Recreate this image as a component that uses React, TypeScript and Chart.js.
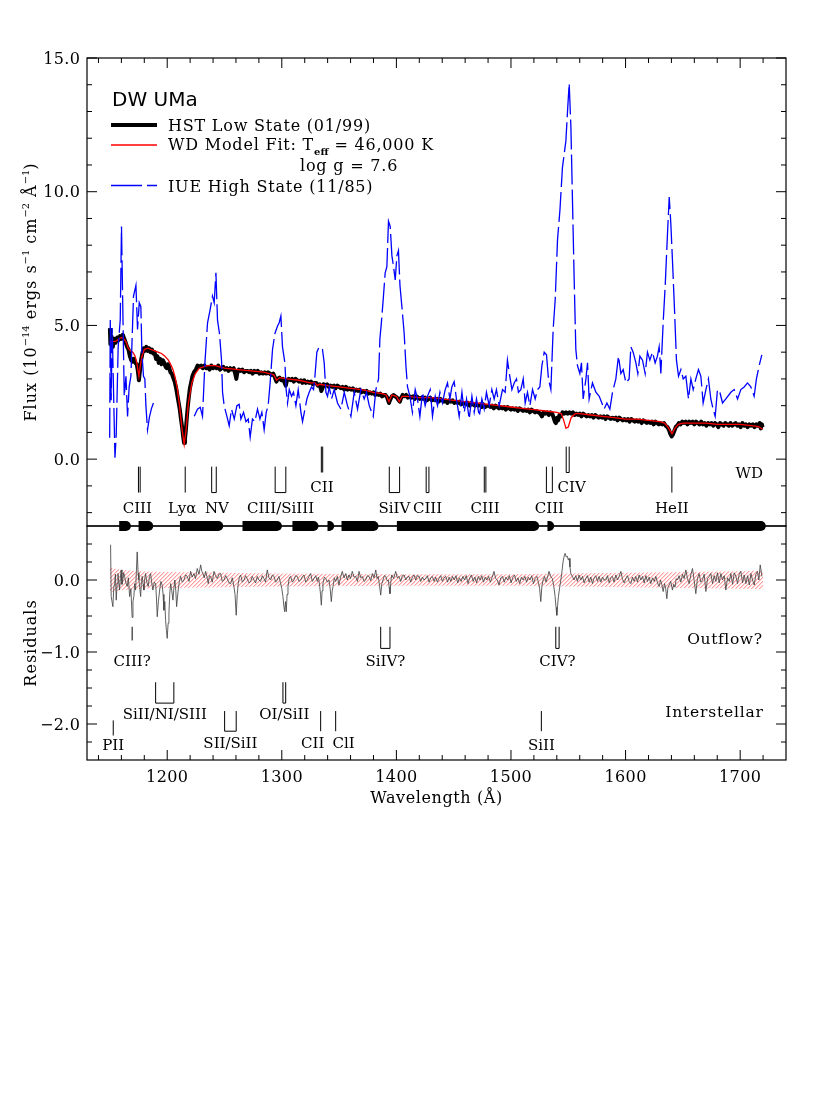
import React, { useEffect, useRef } from 'react';
import { Chart, registerables } from 'chart.js';

Chart.register(...registerables);

// ---------------- data ----------------
const X_MIN = 1130;
const X_MAX = 1740;
const FLUX_MIN = -2.5;
const FLUX_MAX = 15;
const RES_MIN = -2.5;
const RES_MAX = 0.75;

const X_MAJOR = [1200, 1300, 1400, 1500, 1600, 1700];
const X_MAJOR_LABELS = ['1200', '1300', '1400', '1500', '1600', '1700'];
const X_MINOR = [1140, 1160, 1180, 1220, 1240, 1260, 1280, 1320, 1340, 1360, 1380, 1420, 1440, 1460, 1480, 1520, 1540, 1560, 1580, 1620, 1640, 1660, 1680, 1720];
const FLUX_MAJOR = [0, 5, 10, 15];
const FLUX_LABELS = ['0.0', '5.0', '10.0', '15.0'];
const FLUX_MINOR = [-2, -1, 1, 2, 3, 4, 6, 7, 8, 9, 11, 12, 13, 14];
const RES_MAJOR = [0, -1, -2];
const RES_LABELS = ['0.0', '\u22121.0', '\u22122.0'];
const RES_MINOR = [0.5, 0.25, -0.25, -0.5, -0.75, -1.25, -1.5, -1.75, -2.25];

// IUE high state (11/85) flux, 1e-14 units; null = gap (geocoronal Ly alpha removed)
const IUE: Array<[number, number | null]> = [
  [1149.8, 0.8], [1150.3, 5.2], [1151.1, 2.2], [1152.0, 4.9], [1154.4, 0.05], [1155.5, 0.9], [1157.2, 4.2], [1159.0, 5.2],
  [1160.1, 8.7], [1161.3, 5.5], [1162.5, 2.35], [1164.0, 3.1], [1165.4, 1.6], [1166.8, 2.7], [1168.3, 3.1], [1170.6, 6.1],
  [1172.7, 6.5], [1174.1, 4.85], [1175.6, 5.85], [1177.0, 5.7], [1177.9, 4.0], [1179.3, 3.1], [1180.5, 3.0], [1181.4, 2.0],
  [1182.8, 1.1], [1184.6, 1.6], [1186.3, 1.9], [1188.0, 2.1], [1205.0, null],
  [1223.6, 1.6], [1226.4, 1.87], [1228.8, 1.94], [1230.8, 1.6], [1232.9, 3.6], [1235.2, 5.1], [1237.5, 5.6], [1239.5, 6.1],
  [1241.0, 5.85], [1242.5, 6.97], [1243.9, 5.2], [1245.6, 4.7], [1247.4, 3.7], [1248.3, 2.5], [1249.7, 2.0], [1252.1, 1.6],
  [1254.1, 1.25], [1256.1, 1.87], [1258.5, 1.5], [1260.8, 2.0], [1262.8, 2.05], [1264.3, 1.5], [1266.6, 1.75], [1268.7, 1.4],
  [1270.7, 1.5], [1272.4, 0.82], [1274.4, 1.5], [1276.5, 1.4], [1278.8, 1.87], [1280.9, 1.5], [1282.6, 1.75], [1284.6, 1.1],
  [1286.4, 1.75], [1288.1, 2.0], [1289.9, 2.9], [1291.9, 4.1], [1294.0, 4.7], [1296.2, 4.97], [1297.7, 5.1], [1299.2, 5.35],
  [1300.6, 4.2], [1302.7, 3.6], [1303.8, 2.6], [1305.0, 2.1], [1306.5, 2.6], [1308.5, 2.35], [1310.2, 2.5], [1312.3, 2.0],
  [1314.3, 2.6], [1316.7, 1.75], [1318.1, 1.4], [1320.2, 1.87], [1321.9, 2.25], [1323.9, 2.5], [1325.9, 2.7], [1327.7, 2.6],
  [1328.9, 3.1], [1330.6, 4.0], [1332.6, 4.2], [1335.5, 4.1], [1337.0, 3.6], [1338.5, 2.5], [1339.9, 2.35], [1341.4, 2.7],
  [1343.4, 2.25], [1345.7, 2.6], [1348.6, 2.1], [1351.6, 1.87], [1354.5, 2.5], [1357.3, 2.0], [1360.3, 1.6], [1363.2, 2.5],
  [1366.1, 1.87], [1369.0, 2.6], [1371.9, 2.25], [1373.9, 2.5], [1376.3, 2.0], [1379.8, 1.6], [1382.1, 2.6], [1384.4, 3.0],
  [1385.6, 4.5], [1386.7, 5.0], [1388.5, 5.97], [1390.2, 6.97], [1391.7, 7.2], [1393.1, 8.9], [1394.6, 8.7], [1396.1, 7.6],
  [1397.5, 7.2], [1399.0, 6.7], [1400.4, 7.6], [1401.8, 7.8], [1403.1, 6.5], [1404.8, 5.7], [1406.8, 4.7], [1408.3, 3.5],
  [1409.7, 2.7], [1411.8, 2.35], [1414.0, 1.75], [1416.4, 2.6], [1418.4, 2.25], [1420.5, 1.6], [1422.8, 2.5], [1425.1, 2.0],
  [1427.1, 2.35], [1429.5, 2.6], [1431.5, 1.6], [1433.9, 2.35], [1435.9, 2.0], [1438.0, 2.5], [1440.2, 2.1], [1442.6, 2.6],
  [1444.6, 2.85], [1446.7, 2.25], [1448.4, 2.7], [1450.4, 2.9], [1452.4, 2.25], [1454.8, 1.6], [1457.2, 2.5], [1459.2, 1.75],
  [1461.2, 2.25], [1463.5, 1.5], [1465.9, 2.35], [1467.9, 1.75], [1469.9, 2.25], [1472.3, 1.6], [1474.6, 2.25], [1476.6, 1.87],
  [1478.6, 2.5], [1481.0, 2.0], [1483.3, 2.6], [1485.3, 2.25], [1487.3, 2.6], [1489.7, 2.0], [1492.6, 2.6], [1494.9, 2.5],
  [1496.9, 3.7], [1498.4, 3.25], [1500.8, 2.6], [1502.8, 2.85], [1504.8, 3.0], [1506.5, 2.5], [1508.6, 2.6], [1510.7, 3.0],
  [1512.4, 2.1], [1514.4, 2.5], [1516.5, 2.0], [1518.8, 2.6], [1521.1, 2.25], [1523.1, 2.6], [1525.2, 2.7], [1527.0, 3.5],
  [1529.0, 4.0], [1531.0, 3.9], [1532.7, 3.0], [1534.8, 2.6], [1536.8, 4.85], [1538.6, 5.97], [1540.6, 8.2], [1542.7, 9.3],
  [1544.9, 10.9], [1547.9, 11.9], [1549.6, 13.2], [1550.8, 14.05], [1552.3, 12.4], [1553.7, 9.6], [1555.1, 6.8], [1556.6, 4.1],
  [1558.0, 3.5], [1560.1, 3.2], [1561.5, 3.6], [1563.0, 2.25], [1565.4, 3.0], [1566.8, 3.6], [1568.2, 2.25], [1571.1, 2.85],
  [1574.1, 2.5], [1577.0, 2.35], [1579.3, 2.1], [1581.3, 1.87], [1583.7, 2.1], [1586.3, 1.87], [1588.6, 2.5], [1591.5, 3.0],
  [1593.8, 3.85], [1595.9, 3.2], [1597.9, 3.35], [1600.3, 2.85], [1603.1, 3.0], [1604.6, 4.2], [1606.6, 4.0], [1609.0, 3.6],
  [1610.7, 3.2], [1612.5, 3.85], [1614.8, 3.7], [1617.1, 3.2], [1619.1, 4.0], [1621.2, 3.7], [1623.5, 4.0], [1625.8, 3.6],
  [1627.8, 3.85], [1629.3, 4.2], [1630.8, 3.2], [1632.8, 5.1], [1634.6, 6.5], [1636.6, 8.45], [1638.1, 9.8], [1639.5, 8.8],
  [1640.9, 7.45], [1642.7, 5.6], [1644.4, 3.7], [1646.2, 3.1], [1648.3, 3.35], [1650.3, 3.0], [1652.6, 3.1], [1654.9, 2.25],
  [1657.0, 3.0], [1659.0, 2.6], [1661.3, 3.0], [1663.6, 3.35], [1665.7, 3.1], [1667.7, 2.1], [1670.1, 2.6], [1672.3, 3.0],
  [1674.4, 2.25], [1676.4, 1.87], [1678.2, 1.6], [1680.2, 2.6], [1682.3, 2.5], [1684.6, 2.1], [1687.5, 2.25], [1691.9, 2.5],
  [1694.8, 2.6], [1697.7, 2.25], [1700.6, 2.6], [1703.5, 2.7], [1706.4, 2.85], [1709.3, 2.7], [1712.2, 2.35], [1714.2, 3.0],
  [1716.6, 3.5], [1718.9, 3.9],
];

// HST low state (01/99)
const HST: Array<[number, number]> = [
  [1150.0, 4.9], [1150.4, 4.3], [1151.3, 4.6], [1152.5, 4.2], [1153.7, 4.5], [1155.0, 4.35], [1156.3, 4.55], [1157.5, 4.45],
  [1158.8, 4.6], [1160.0, 4.5], [1161.3, 4.65], [1162.5, 4.5], [1163.8, 4.35], [1165.0, 4.2], [1166.2, 4.1], [1167.4, 3.85],
  [1168.6, 3.7], [1169.8, 3.65], [1171.0, 3.75], [1172.2, 3.6], [1173.4, 3.55], [1174.4, 3.3], [1175.3, 2.95], [1176.2, 3.3],
  [1177.2, 3.7], [1178.3, 3.95], [1179.4, 4.15], [1180.6, 4.05], [1181.8, 4.2], [1183.0, 4.05], [1184.2, 4.15], [1185.4, 4.0],
  [1186.6, 4.1], [1187.8, 3.95], [1189.0, 4.0], [1190.2, 3.75], [1191.4, 3.85], [1192.6, 3.6], [1193.8, 3.75], [1195.0, 3.55],
  [1196.2, 3.7], [1197.4, 3.6], [1198.6, 3.45], [1199.6, 3.4], [1200.6, 3.55], [1201.6, 3.45], [1202.8, 3.25], [1204.0, 3.2],
  [1205.2, 3.05], [1206.5, 2.9], [1207.6, 2.7], [1208.6, 2.45], [1209.8, 2.15], [1211.0, 1.85], [1212.0, 1.5], [1213.0, 1.2],
  [1213.9, 0.85], [1214.7, 0.6], [1215.5, 0.75], [1216.2, 1.05], [1217.0, 1.5], [1217.8, 1.9], [1218.8, 2.3], [1219.8, 2.65],
  [1220.8, 2.85], [1222.0, 3.1], [1223.4, 3.25], [1225.0, 3.35], [1226.5, 3.5], [1228.0, 3.45], [1229.5, 3.5], [1231.0, 3.4],
  [1232.5, 3.5], [1234.0, 3.4], [1235.5, 3.45], [1237.0, 3.35], [1238.5, 3.5], [1240.0, 3.4], [1241.5, 3.45], [1243.0, 3.4],
  [1244.5, 3.5], [1246.0, 3.35], [1247.5, 3.4], [1249.0, 3.45], [1250.5, 3.35], [1252.0, 3.4], [1253.5, 3.3], [1255.0, 3.4],
  [1256.5, 3.35], [1258.0, 3.4], [1259.3, 3.2], [1260.3, 3.0], [1261.3, 3.25], [1262.5, 3.35], [1264.0, 3.3], [1265.5, 3.35],
  [1267.0, 3.25], [1268.5, 3.3], [1270.0, 3.3], [1271.5, 3.25], [1273.0, 3.3], [1274.5, 3.2], [1276.0, 3.3], [1277.5, 3.25],
  [1279.0, 3.3], [1280.5, 3.2], [1282.0, 3.25], [1283.5, 3.2], [1285.0, 3.25], [1286.5, 3.2], [1288.0, 3.25], [1289.5, 3.2],
  [1291.0, 3.15], [1292.5, 3.2], [1294.0, 3.05], [1295.3, 2.9], [1296.5, 3.0], [1298.0, 3.05], [1299.5, 2.95], [1301.0, 3.0],
  [1302.5, 2.85], [1303.5, 2.75], [1304.5, 2.95], [1306.0, 3.0], [1307.5, 2.95], [1309.0, 3.0], [1310.5, 2.9], [1312.0, 3.0],
  [1313.5, 2.95], [1315.0, 2.9], [1316.5, 2.95], [1318.0, 2.85], [1319.5, 2.95], [1321.0, 2.85], [1322.5, 2.9], [1324.0, 2.85],
  [1325.5, 2.9], [1327.0, 2.8], [1328.5, 2.85], [1330.0, 2.85], [1331.5, 2.75], [1333.0, 2.8], [1334.5, 2.55], [1335.5, 2.65],
  [1336.5, 2.8], [1338.0, 2.75], [1339.5, 2.8], [1341.0, 2.7], [1342.5, 2.75], [1344.0, 2.7], [1345.5, 2.75], [1347.0, 2.65],
  [1348.5, 2.75], [1350.0, 2.7], [1351.5, 2.65], [1353.0, 2.7], [1354.5, 2.6], [1356.0, 2.7], [1357.5, 2.6], [1359.0, 2.65],
  [1360.5, 2.6], [1362.0, 2.65], [1363.5, 2.55], [1365.0, 2.6], [1366.5, 2.55], [1368.0, 2.6], [1369.5, 2.5], [1371.0, 2.55],
  [1372.5, 2.5], [1374.0, 2.55], [1375.5, 2.45], [1377.0, 2.5], [1378.5, 2.45], [1380.0, 2.5], [1381.5, 2.4], [1383.0, 2.45],
  [1384.5, 2.4], [1386.0, 2.45], [1387.5, 2.35], [1389.0, 2.4], [1390.5, 2.4], [1392.0, 2.3], [1393.5, 2.1], [1394.8, 2.25],
  [1396.0, 2.35], [1397.5, 2.4], [1399.0, 2.35], [1400.5, 2.3], [1402.0, 2.2], [1403.0, 2.15], [1404.2, 2.3], [1405.5, 2.4],
  [1407.0, 2.35], [1408.5, 2.4], [1410.0, 2.3], [1411.5, 2.35], [1413.0, 2.3], [1414.5, 2.35], [1416.0, 2.25], [1417.5, 2.35],
  [1419.0, 2.3], [1420.5, 2.25], [1422.0, 2.3], [1423.5, 2.25], [1425.0, 2.3], [1426.5, 2.2], [1428.0, 2.25], [1429.5, 2.3],
  [1431.0, 2.2], [1432.5, 2.25], [1434.0, 2.2], [1435.5, 2.25], [1437.0, 2.15], [1438.5, 2.25], [1440.0, 2.2], [1441.5, 2.15],
  [1443.0, 2.2], [1444.5, 2.1], [1446.0, 2.2], [1447.5, 2.15], [1449.0, 2.2], [1450.5, 2.1], [1452.0, 2.15], [1453.5, 2.1],
  [1455.0, 2.15], [1456.5, 2.05], [1458.0, 2.1], [1459.5, 2.1], [1461.0, 2.05], [1462.5, 2.1], [1464.0, 2.0], [1465.5, 2.1],
  [1467.0, 2.05], [1468.5, 2.0], [1470.0, 2.05], [1471.5, 2.0], [1473.0, 2.05], [1474.5, 1.95], [1476.0, 2.05], [1477.5, 1.95],
  [1479.0, 2.0], [1480.5, 2.0], [1482.0, 1.95], [1483.5, 2.0], [1485.0, 1.9], [1486.5, 2.0], [1488.0, 1.95], [1489.5, 1.9],
  [1491.0, 1.95], [1492.5, 1.9], [1494.0, 1.95], [1495.5, 1.85], [1497.0, 1.95], [1498.5, 1.9], [1500.0, 1.85], [1501.5, 1.9],
  [1503.0, 1.85], [1504.5, 1.9], [1506.0, 1.8], [1507.5, 1.9], [1509.0, 1.85], [1510.5, 1.8], [1512.0, 1.85], [1513.5, 1.8],
  [1515.0, 1.85], [1516.5, 1.75], [1518.0, 1.85], [1519.5, 1.8], [1521.0, 1.75], [1522.5, 1.8], [1524.0, 1.75], [1525.5, 1.7],
  [1527.0, 1.6], [1528.5, 1.75], [1530.0, 1.7], [1531.5, 1.75], [1533.0, 1.65], [1534.5, 1.75], [1536.0, 1.7], [1537.2, 1.55],
  [1538.3, 1.4], [1539.2, 1.35], [1540.2, 1.55], [1541.2, 1.45], [1542.3, 1.65], [1543.5, 1.6], [1545.0, 1.75], [1546.5, 1.7],
  [1548.0, 1.75], [1549.5, 1.7], [1551.0, 1.75], [1552.5, 1.7], [1554.0, 1.75], [1555.5, 1.65], [1557.0, 1.7], [1558.5, 1.65],
  [1560.0, 1.7], [1561.5, 1.6], [1563.0, 1.7], [1564.5, 1.65], [1566.0, 1.6], [1567.5, 1.65], [1569.0, 1.6], [1570.5, 1.65],
  [1572.0, 1.55], [1573.5, 1.65], [1575.0, 1.6], [1576.5, 1.55], [1578.0, 1.6], [1579.5, 1.55], [1581.0, 1.6], [1582.5, 1.5],
  [1584.0, 1.6], [1585.5, 1.55], [1587.0, 1.5], [1588.5, 1.55], [1590.0, 1.5], [1591.5, 1.55], [1593.0, 1.45], [1594.5, 1.55],
  [1596.0, 1.5], [1597.5, 1.45], [1599.0, 1.5], [1600.5, 1.45], [1602.0, 1.5], [1603.5, 1.4], [1605.0, 1.5], [1606.5, 1.45],
  [1608.0, 1.4], [1609.5, 1.45], [1611.0, 1.4], [1612.5, 1.45], [1614.0, 1.35], [1615.5, 1.45], [1617.0, 1.4], [1618.5, 1.35],
  [1620.0, 1.4], [1621.5, 1.35], [1623.0, 1.4], [1624.5, 1.3], [1626.0, 1.4], [1627.5, 1.35], [1629.0, 1.3], [1630.5, 1.35],
  [1632.0, 1.3], [1633.5, 1.35], [1635.0, 1.25], [1636.5, 1.2], [1637.8, 1.1], [1639.0, 0.95], [1640.2, 0.85], [1641.3, 0.92],
  [1642.5, 1.05], [1643.8, 1.2], [1645.0, 1.25], [1646.5, 1.35], [1648.0, 1.3], [1649.5, 1.4], [1651.0, 1.35], [1652.5, 1.4],
  [1654.0, 1.3], [1655.5, 1.4], [1657.0, 1.35], [1658.5, 1.4], [1660.0, 1.3], [1661.5, 1.4], [1663.0, 1.35], [1664.5, 1.3],
  [1666.0, 1.4], [1667.5, 1.3], [1669.0, 1.35], [1670.5, 1.25], [1672.0, 1.35], [1673.5, 1.3], [1675.0, 1.35], [1676.5, 1.25],
  [1678.0, 1.35], [1679.5, 1.3], [1681.0, 1.2], [1682.5, 1.35], [1684.0, 1.3], [1685.5, 1.25], [1687.0, 1.35], [1688.5, 1.3],
  [1690.0, 1.25], [1691.5, 1.35], [1693.0, 1.25], [1694.5, 1.3], [1696.0, 1.35], [1697.5, 1.25], [1699.0, 1.3], [1700.5, 1.2],
  [1702.0, 1.35], [1703.5, 1.25], [1705.0, 1.3], [1706.5, 1.2], [1708.0, 1.3], [1709.5, 1.25], [1711.0, 1.3], [1712.5, 1.2],
  [1714.0, 1.3], [1715.5, 1.25], [1717.0, 1.35], [1718.0, 1.15], [1719.0, 1.3], [1719.5, 1.2],
];

// WD model fit, Teff = 46,000 K, log g = 7.6
const MODEL: Array<[number, number]> = [
  [1150, 4.35], [1152, 4.4], [1155, 4.4], [1158, 4.5], [1160, 4.55], [1162, 4.5], [1164, 4.4], [1166, 4.15],
  [1168, 4.05], [1170, 4.0], [1172, 3.85], [1173.5, 3.6], [1175.3, 3.1], [1176.5, 3.5], [1178, 3.85], [1180, 4.1],
  [1183, 4.15], [1186, 4.1], [1189, 4.05], [1192, 4.0], [1195, 3.95], [1198, 3.85], [1201, 3.7], [1203, 3.55],
  [1205, 3.35], [1207, 3.05], [1209, 2.6], [1211, 1.9], [1213, 1.1], [1214.8, 0.55], [1216.5, 1.1], [1218.5, 2.1],
  [1221.5, 2.85], [1224.5, 3.2], [1228, 3.4], [1235, 3.5], [1242, 3.5], [1250, 3.4], [1262, 3.35], [1273, 3.3],
  [1284, 3.25], [1289, 3.2], [1293, 3.15], [1295.5, 2.95], [1298, 3.05], [1305, 3.0], [1315, 2.95], [1325, 2.85],
  [1329, 2.85], [1331, 2.75], [1333, 2.8], [1340, 2.75], [1350, 2.7], [1360, 2.65], [1370, 2.6], [1380, 2.5],
  [1388, 2.45], [1391, 2.4], [1393.5, 2.15], [1396, 2.4], [1400, 2.35], [1402.5, 2.15], [1405, 2.35], [1410, 2.35],
  [1420, 2.3], [1430, 2.3], [1440, 2.25], [1450, 2.2], [1460, 2.15], [1470, 2.1], [1480, 2.05], [1490, 2.0],
  [1500, 1.95], [1510, 1.9], [1520, 1.85], [1530, 1.8], [1540, 1.75], [1544, 1.7], [1546, 1.45], [1548, 1.15],
  [1550, 1.2], [1552.5, 1.55], [1556, 1.7], [1560, 1.7], [1570, 1.65], [1580, 1.6], [1590, 1.55], [1600, 1.5],
  [1610, 1.5], [1620, 1.45], [1630, 1.4], [1634, 1.35], [1637, 1.2], [1640.5, 0.95], [1643, 1.15], [1646, 1.3],
  [1650, 1.35], [1660, 1.35], [1670, 1.35], [1680, 1.3], [1690, 1.3], [1700, 1.3], [1710, 1.25], [1716, 1.22], [1719.5, 1.12],
];

// residuals (data - model)
const RESID: Array<[number, number]> = [
  [1150.6, 0.49], [1151.1, -0.23], [1152.6, -0.37], [1153.4, -0.1], [1154.1, -0.05], [1154.8, 0.08], [1155.5, -0.28], [1156.3, -0.05],
  [1157.0, 0.09], [1157.7, -0.02], [1158.4, -0.14], [1159.1, 0.02], [1159.8, 0.14], [1160.5, -0.06], [1161.3, 0.0], [1162.0, 0.1],
  [1162.8, 0.05], [1163.9, -0.04], [1165.1, -0.09], [1166.1, 0.03], [1167.2, -0.23], [1168.3, -0.12], [1169.4, -0.52], [1170.1, -0.3],
  [1170.9, -0.23], [1171.6, -0.05], [1172.4, -0.14], [1173.1, 0.12], [1173.8, 0.39], [1174.6, 0.1], [1175.3, 0.0], [1176.0, -0.1],
  [1176.8, -0.23], [1177.5, -0.02], [1178.2, 0.05], [1179.0, -0.06], [1179.7, -0.14], [1180.4, 0.02], [1181.1, 0.09], [1182.2, -0.03],
  [1183.4, -0.09], [1184.5, 0.05], [1185.5, 0.09], [1186.5, -0.04], [1187.5, -0.14], [1188.7, -0.03], [1189.9, -0.05], [1190.6, -0.25],
  [1191.3, -0.51], [1192.3, -0.3], [1193.4, -0.14], [1194.5, -0.02], [1195.6, -0.07], [1196.4, -0.2], [1197.1, -0.42], [1197.9, -0.3],
  [1198.6, -0.56], [1199.3, -0.7], [1200.0, -0.81], [1200.8, -0.6], [1201.5, -0.46], [1202.2, -0.2], [1203.0, -0.05], [1204.0, -0.15],
  [1205.0, -0.28], [1205.9, -0.1], [1206.7, 0.0], [1207.5, -0.15], [1208.2, -0.37], [1208.9, -0.25], [1209.6, -0.14], [1210.6, -0.02],
  [1211.7, 0.05], [1213.2, -0.03], [1214.6, 0.0], [1216.0, 0.07], [1217.5, 0.05], [1219.0, -0.02], [1220.4, 0.12], [1221.8, 0.04],
  [1223.3, 0.09], [1224.7, 0.02], [1226.2, 0.16], [1227.7, 0.08], [1229.2, 0.21], [1230.2, 0.12], [1231.2, 0.09], [1232.3, 0.03],
  [1233.5, 0.12], [1234.6, 0.05], [1235.8, -0.05], [1236.8, 0.06], [1237.9, 0.05], [1239.3, -0.03], [1240.8, 0.12], [1242.2, 0.06],
  [1243.7, 0.02], [1245.1, 0.08], [1246.6, 0.09], [1248.0, -0.02], [1249.5, 0.0], [1251.0, 0.06], [1252.4, 0.02], [1253.9, -0.04],
  [1255.4, -0.05], [1256.8, 0.03], [1258.2, -0.09], [1259.2, -0.2], [1260.2, -0.49], [1261.1, -0.2], [1262.0, -0.05], [1263.0, 0.04],
  [1264.1, 0.07], [1265.5, -0.03], [1267.0, 0.0], [1268.4, 0.06], [1269.8, 0.02], [1271.3, -0.04], [1272.8, -0.02], [1274.2, 0.05],
  [1275.7, 0.0], [1277.1, -0.04], [1278.6, 0.05], [1280.0, 0.0], [1281.5, -0.02], [1283.0, 0.06], [1284.4, 0.02], [1285.8, -0.03],
  [1287.3, 0.14], [1288.8, 0.03], [1290.3, 0.0], [1291.7, 0.07], [1293.2, 0.05], [1294.6, -0.03], [1296.0, 0.0], [1297.5, 0.05],
  [1299.0, -0.05], [1300.0, -0.12], [1301.0, -0.23], [1301.7, -0.35], [1302.5, -0.44], [1303.2, -0.3], [1303.9, -0.44], [1304.6, -0.2],
  [1305.4, -0.09], [1306.5, 0.03], [1307.7, 0.05], [1309.2, -0.03], [1310.6, 0.0], [1312.0, 0.06], [1313.5, 0.05], [1315.0, -0.02],
  [1316.5, 0.0], [1318.0, 0.05], [1319.4, 0.07], [1320.8, -0.03], [1322.2, 0.0], [1323.7, 0.05], [1325.2, 0.09], [1326.6, -0.02],
  [1328.1, 0.02], [1329.6, 0.06], [1331.0, -0.02], [1332.0, 0.04], [1333.1, -0.09], [1333.8, -0.2], [1334.5, -0.35], [1335.2, -0.15],
  [1335.9, -0.05], [1337.1, 0.04], [1338.3, 0.02], [1339.8, -0.03], [1341.2, 0.0], [1342.2, -0.12], [1343.2, -0.3], [1344.0, -0.15],
  [1344.7, -0.09], [1345.8, 0.03], [1347.0, -0.02], [1348.5, 0.05], [1349.9, -0.07], [1351.3, 0.04], [1352.8, 0.12], [1354.3, 0.03],
  [1355.8, 0.09], [1357.2, 0.0], [1358.6, 0.07], [1360.0, 0.02], [1361.5, 0.12], [1363.0, 0.04], [1364.5, 0.05], [1366.0, -0.02],
  [1367.4, 0.12], [1368.9, 0.03], [1370.3, 0.05], [1371.8, -0.02], [1373.2, 0.0], [1374.6, 0.06], [1376.1, 0.05], [1377.6, -0.01],
  [1379.0, 0.09], [1380.5, 0.03], [1382.0, 0.14], [1383.1, 0.02], [1384.2, 0.05], [1385.3, -0.08], [1386.3, -0.21], [1387.3, -0.05],
  [1388.3, 0.0], [1389.5, 0.06], [1390.7, 0.05], [1391.9, -0.01], [1393.0, 0.0], [1393.7, -0.1], [1394.4, -0.19], [1395.2, -0.02],
  [1395.9, 0.07], [1397.6, 0.02], [1399.4, 0.12], [1400.8, 0.03], [1402.3, 0.05], [1403.8, -0.02], [1405.2, 0.06], [1406.7, 0.07],
  [1408.2, 0.0], [1409.6, 0.04], [1411.0, 0.05], [1412.5, -0.03], [1414.0, 0.04], [1415.4, 0.07], [1416.9, 0.0], [1418.3, 0.06],
  [1419.8, 0.05], [1421.2, -0.02], [1422.7, 0.04], [1424.1, 0.0], [1425.6, 0.02], [1427.0, 0.06], [1428.5, -0.03], [1430.0, 0.03],
  [1431.4, 0.05], [1432.9, -0.02], [1434.3, 0.04], [1435.8, -0.03], [1437.2, 0.02], [1438.7, 0.06], [1440.1, -0.02], [1441.6, 0.03],
  [1443.1, 0.05], [1444.6, -0.03], [1446.0, 0.04], [1447.5, -0.02], [1449.0, 0.05], [1450.5, 0.0], [1452.0, 0.06], [1453.5, -0.04],
  [1455.0, 0.03], [1456.5, -0.02], [1458.0, 0.05], [1459.5, 0.0], [1461.0, 0.06], [1462.5, -0.05], [1464.0, 0.03], [1465.5, 0.07],
  [1467.0, -0.02], [1468.5, 0.04], [1470.0, -0.04], [1471.5, 0.05], [1473.0, 0.0], [1474.5, 0.06], [1476.0, -0.03], [1477.5, 0.04],
  [1479.0, 0.0], [1480.5, 0.05], [1482.0, -0.03], [1483.6, 0.04], [1485.2, 0.12], [1486.6, 0.02], [1488.1, 0.0], [1489.6, -0.07],
  [1491.1, 0.03], [1492.6, 0.05], [1494.1, -0.03], [1495.6, 0.04], [1497.1, 0.0], [1498.6, 0.06], [1500.1, -0.04], [1501.6, 0.04],
  [1503.1, 0.07], [1504.6, -0.02], [1506.1, 0.03], [1507.6, -0.05], [1509.1, 0.04], [1510.6, 0.0], [1512.1, 0.05], [1513.6, -0.03],
  [1515.1, 0.04], [1516.6, 0.0], [1518.1, 0.06], [1519.6, -0.05], [1521.1, 0.02], [1522.6, 0.05], [1524.0, -0.04], [1525.0, -0.12],
  [1526.0, -0.3], [1527.0, -0.08], [1528.0, 0.0], [1529.3, 0.05], [1530.6, -0.03], [1531.9, 0.04], [1533.2, 0.12], [1534.6, 0.05],
  [1536.1, 0.02], [1537.3, -0.08], [1538.5, -0.23], [1539.3, -0.38], [1540.0, -0.49], [1540.7, -0.35], [1541.4, -0.23], [1542.5, -0.1],
  [1543.5, 0.0], [1544.5, 0.12], [1545.5, 0.26], [1546.4, 0.33], [1547.2, 0.37], [1548.2, 0.32], [1549.2, 0.33], [1550.0, 0.28],
  [1550.7, 0.3], [1551.5, 0.18], [1552.2, 0.09], [1553.6, 0.05], [1555.0, 0.0], [1556.5, 0.06], [1558.0, -0.02], [1559.4, 0.07],
  [1560.9, 0.0], [1562.4, 0.05], [1563.8, -0.04], [1565.3, 0.02], [1566.7, 0.06], [1568.2, -0.03], [1569.7, 0.04], [1571.1, -0.05],
  [1572.6, 0.03], [1574.0, 0.06], [1575.5, -0.02], [1576.9, 0.05], [1578.4, -0.03], [1579.9, 0.04], [1581.3, 0.0], [1582.8, 0.0],
  [1584.2, 0.06], [1585.7, -0.04], [1587.1, 0.03], [1588.5, 0.05], [1590.0, -0.03], [1591.5, 0.07], [1593.0, 0.0], [1594.4, 0.05],
  [1595.9, 0.12], [1597.3, 0.01], [1598.8, -0.04], [1600.2, 0.02], [1601.7, 0.06], [1603.1, -0.02], [1604.6, -0.05], [1606.0, 0.04],
  [1607.5, -0.02], [1608.9, 0.05], [1610.4, -0.03], [1611.8, 0.07], [1613.3, 0.0], [1614.8, 0.05], [1616.2, -0.04], [1617.7, 0.06],
  [1619.1, -0.02], [1620.6, 0.04], [1622.0, -0.05], [1623.5, 0.03], [1625.0, -0.02], [1626.4, 0.05], [1627.9, -0.04], [1629.3, -0.09],
  [1630.5, 0.0], [1631.6, -0.06], [1632.8, -0.16], [1634.0, -0.05], [1635.0, -0.12], [1636.0, -0.26], [1637.0, -0.1], [1638.0, -0.07],
  [1639.4, -0.02], [1640.9, -0.14], [1642.0, -0.06], [1643.1, -0.1], [1644.2, 0.02], [1645.3, 0.0], [1646.7, 0.06], [1648.2, -0.03],
  [1649.7, 0.08], [1651.1, 0.02], [1652.6, 0.14], [1654.0, 0.02], [1655.5, -0.05], [1656.9, 0.07], [1658.4, 0.16], [1659.8, 0.0],
  [1661.3, -0.19], [1662.7, 0.02], [1664.2, 0.09], [1665.6, -0.03], [1667.1, 0.0], [1668.6, 0.08], [1670.1, -0.16], [1671.5, 0.02],
  [1673.0, 0.05], [1674.4, 0.09], [1675.9, -0.05], [1677.3, 0.06], [1678.8, -0.02], [1680.2, 0.1], [1681.7, -0.04], [1683.2, 0.09],
  [1684.6, 0.0], [1686.1, 0.06], [1687.5, -0.14], [1689.0, 0.03], [1690.5, -0.02], [1691.9, 0.09], [1693.4, -0.06], [1694.8, 0.1],
  [1696.3, 0.05], [1697.7, -0.05], [1699.2, 0.08], [1700.6, 0.12], [1702.1, -0.04], [1703.5, 0.07], [1705.0, -0.05], [1706.5, 0.06],
  [1708.0, -0.07], [1709.4, 0.09], [1710.8, 0.0], [1712.3, -0.07], [1713.7, 0.08], [1715.1, 0.12], [1716.3, 0.0], [1717.5, 0.21],
  [1719.0, 0.05],
];

// error envelope of the residuals (half width)
const BAND_WAVE = [1150, 1160, 1175, 1200, 1250, 1300, 1400, 1500, 1550, 1600, 1650, 1700, 1720];
const BAND_HALF = [0.17, 0.14, 0.12, 0.11, 0.1, 0.09, 0.08, 0.08, 0.09, 0.1, 0.11, 0.12, 0.13];

// wavelength regions used in the fit (start, end)
const FIT_REGIONS: Array<[number, number]> = [
  [1158.1, 1168.3], [1175.0, 1187.8], [1211.1, 1248.9], [1265.7, 1300.1], [1309.3, 1332.0],
  [1339.9, 1345.7], [1352.1, 1384.4], [1400.4, 1524.6], [1531.8, 1537.7], [1560.1, 1722.4],
];

// line identifications (wavelengths); tick extents and label heights in panel units
const FLUX_IDS = [
  { label: 'CIII', waves: [1174.9, 1176.4], top: -0.28, bottom: -1.25, ly: -1.83, dx: -2 },
  { label: 'Ly\u03b1', waves: [1215.7], top: -0.28, bottom: -1.25, ly: -1.83, dx: -3 },
  { label: 'NV', waves: [1238.8, 1242.8], top: -0.28, bottom: -1.25, ly: -1.83, dx: 3 },
  { label: 'CIII/SiIII', waves: [1294.2, 1303.5], top: -0.28, bottom: -1.25, ly: -1.83, dx: 0 },
  { label: 'CII', waves: [1334.5, 1335.7], top: 0.47, bottom: -0.5, ly: -1.02, dx: 0 },
  { label: 'SiIV', waves: [1393.8, 1402.8], top: -0.28, bottom: -1.25, ly: -1.83, dx: 0 },
  { label: 'CIII', waves: [1426.0, 1428.4], top: -0.28, bottom: -1.25, ly: -1.83, dx: 0 },
  { label: 'CIII', waves: [1476.7, 1478.1], top: -0.28, bottom: -1.25, ly: -1.83, dx: 0 },
  { label: 'CIII', waves: [1530.9, 1536.1], top: -0.28, bottom: -1.25, ly: -1.83, dx: 0 },
  { label: 'CIV', waves: [1548.2, 1550.8], top: 0.47, bottom: -0.5, ly: -1.02, dx: 4 },
  { label: 'HeII', waves: [1640.4], top: -0.28, bottom: -1.25, ly: -1.83, dx: 0 },
];

const RESID_IDS = [
  { label: 'CIII?', waves: [1169.4], top: -0.65, bottom: -0.84, ly: -1.12, dx: 0 },
  { label: 'SiIV?', waves: [1386.3, 1394.4], top: -0.65, bottom: -0.95, ly: -1.12, dx: 0 },
  { label: 'CIV?', waves: [1539.1, 1542.0], top: -0.65, bottom: -0.95, ly: -1.12, dx: 0 },
  { label: 'SiII/NI/SIII', waves: [1189.9, 1205.8], top: -1.42, bottom: -1.71, ly: -1.86, dx: 0 },
  { label: 'OI/SiII', waves: [1301.0, 1303.4], top: -1.42, bottom: -1.71, ly: -1.86, dx: 0 },
  { label: 'PII', waves: [1152.9], top: -1.95, bottom: -2.16, ly: -2.28, dx: 0 },
  { label: 'SII/SiII', waves: [1250.1, 1260.2], top: -1.82, bottom: -2.1, ly: -2.26, dx: 0 },
  { label: 'CII', waves: [1333.9], top: -1.82, bottom: -2.1, ly: -2.26, dx: -8 },
  { label: 'ClI', waves: [1347.0], top: -1.82, bottom: -2.1, ly: -2.26, dx: 8 },
  { label: 'SiII', waves: [1526.5], top: -1.82, bottom: -2.1, ly: -2.28, dx: 0 },
];

// ---------------- layout / style ----------------
const W = 830;
const H = 1106;
const PLOT_L = 87;
const PLOT_R = 786;
const TOP_Y = 58;
const MID_Y = 526;
const BOT_Y = 760;
const SERIF = '"DejaVu Serif", "Liberation Serif", serif';
const SANS = '"DejaVu Sans", sans-serif';
const LBL = 15;   // line-id labels
const TXT = 16;   // legend, titles, tick labels
const HATCH_COLOR = 'rgba(255,20,20,0.75)';
const HATCH_STEP = 4;

type Run = { t: string; sup?: boolean; sub?: boolean; bold?: boolean };

function font(ctx: CanvasRenderingContext2D, size: number, family = SERIF, weight = 'normal') {
  ctx.font = `${weight} ${size}px ${family}`;
}

function spacing(ctx: CanvasRenderingContext2D, px: number) {
  (ctx as any).letterSpacing = `${px}px`;
}

function capText(ctx: CanvasRenderingContext2D, s: string, x: number, cy: number, size: number, align: CanvasTextAlign = 'center', family = SERIF, ls = 0) {
  font(ctx, size, family);
  spacing(ctx, ls);
  ctx.textAlign = align;
  ctx.textBaseline = 'alphabetic';
  ctx.fillStyle = '#000';
  let xx = x;
  if (ls && align === 'right') xx += ls;
  ctx.fillText(s, xx, cy + size * 0.36);
  spacing(ctx, 0);
}

function runsWidth(ctx: CanvasRenderingContext2D, runs: Run[], size: number, ls = 0) {
  let w = 0;
  for (const r of runs) {
    const sz = r.sup || r.sub ? size * 0.62 : size;
    font(ctx, sz, SERIF, r.bold ? 'bold' : 'normal');
    spacing(ctx, r.sup || r.sub ? 0 : ls);
    w += ctx.measureText(r.t).width;
  }
  spacing(ctx, 0);
  return w;
}

function drawRuns(ctx: CanvasRenderingContext2D, runs: Run[], x: number, baseline: number, size: number, ls = 0) {
  ctx.textAlign = 'left';
  ctx.textBaseline = 'alphabetic';
  ctx.fillStyle = '#000';
  let cx = x;
  for (const r of runs) {
    const sz = r.sup || r.sub ? size * 0.62 : size;
    font(ctx, sz, SERIF, r.bold ? 'bold' : 'normal');
    spacing(ctx, r.sup || r.sub ? 0 : ls);
    const dy = r.sup ? -size * 0.42 : r.sub ? size * 0.3 : 0;
    ctx.fillText(r.t, cx, baseline + dy);
    cx += ctx.measureText(r.t).width;
  }
  spacing(ctx, 0);
  return cx;
}

function yTicks(ctx: CanvasRenderingContext2D, ys: any, area: any, major: number[], minor: number[]) {
  ctx.beginPath();
  for (const v of major) {
    const p = ys.getPixelForValue(v);
    ctx.moveTo(area.left, p); ctx.lineTo(area.left + 10, p);
    ctx.moveTo(area.right, p); ctx.lineTo(area.right - 10, p);
  }
  for (const v of minor) {
    const p = ys.getPixelForValue(v);
    ctx.moveTo(area.left, p); ctx.lineTo(area.left + 5, p);
    ctx.moveTo(area.right, p); ctx.lineTo(area.right - 5, p);
  }
  ctx.stroke();
}

function xTicks(ctx: CanvasRenderingContext2D, xs: any, yEdge: number, dir: number) {
  ctx.beginPath();
  for (const v of X_MAJOR) {
    const p = xs.getPixelForValue(v);
    ctx.moveTo(p, yEdge); ctx.lineTo(p, yEdge + dir * 10);
  }
  for (const v of X_MINOR) {
    const p = xs.getPixelForValue(v);
    ctx.moveTo(p, yEdge); ctx.lineTo(p, yEdge + dir * 5);
  }
  ctx.stroke();
}

function drawIds(ctx: CanvasRenderingContext2D, xs: any, ys: any, ids: any[]) {
  ctx.strokeStyle = '#000';
  ctx.lineWidth = 1;
  for (const id of ids) {
    const px = id.waves.map((w: number) => xs.getPixelForValue(w));
    const yT = ys.getPixelForValue(id.top);
    const yB = ys.getPixelForValue(id.bottom);
    ctx.beginPath();
    for (const p of px) { ctx.moveTo(p, yT); ctx.lineTo(p, yB); }
    if (px.length === 2 && px[1] - px[0] > 2.5) { ctx.moveTo(px[0], yB); ctx.lineTo(px[1], yB); }
    ctx.stroke();
    const mid = px.reduce((a: number, b: number) => a + b, 0) / px.length;
    capText(ctx, id.label, mid + id.dx, ys.getPixelForValue(id.ly), LBL);
  }
}

function yTitle(ctx: CanvasRenderingContext2D, runs: Run[], cx: number, cy: number, size: number, ls: number) {
  ctx.save();
  ctx.translate(cx, cy);
  ctx.rotate(-Math.PI / 2);
  const w = runsWidth(ctx, runs, size, ls);
  drawRuns(ctx, runs, -w / 2, size * 0.36, size, ls);
  ctx.restore();
}

const topDecor = {
  id: 'topDecor',
  afterDraw(chart: any) {
    const ctx: CanvasRenderingContext2D = chart.ctx;
    const a = chart.chartArea;
    const xs = chart.scales.x;
    const ys = chart.scales.y;
    ctx.save();
    ctx.strokeStyle = '#000';
    ctx.lineWidth = 1.2;
    ctx.strokeRect(a.left, a.top, a.right - a.left, a.bottom - a.top);
    ctx.lineWidth = 1;
    xTicks(ctx, xs, a.top, 1);
    yTicks(ctx, ys, a, FLUX_MAJOR, FLUX_MINOR);
    FLUX_MAJOR.forEach((v, i) => capText(ctx, FLUX_LABELS[i], a.left - 7, ys.getPixelForValue(v), TXT, 'right', SERIF, 0.4));
    yTitle(ctx, [
      { t: 'Flux (10' }, { t: '\u221214', sup: true }, { t: ' ergs s' }, { t: '\u22121', sup: true },
      { t: ' cm' }, { t: '\u22122', sup: true }, { t: ' \u00c5' }, { t: '\u22121', sup: true }, { t: ')' },
    ], 30, (a.top + a.bottom) / 2, TXT, 1);

    // title + legend
    capText(ctx, 'DW UMa', a.left + 25, 99, 20, 'left', SANS);
    const lx0 = a.left + 24, lx1 = a.left + 70, tx = a.left + 81;
    ctx.lineCap = 'butt';
    ctx.strokeStyle = '#000'; ctx.lineWidth = 4;
    ctx.beginPath(); ctx.moveTo(lx0, 125); ctx.lineTo(lx1, 125); ctx.stroke();
    ctx.strokeStyle = '#ff0000'; ctx.lineWidth = 1.3;
    ctx.beginPath(); ctx.moveTo(lx0, 145); ctx.lineTo(lx1, 145); ctx.stroke();
    ctx.strokeStyle = '#0000ff'; ctx.lineWidth = 1.3; ctx.setLineDash([31, 5]);
    ctx.beginPath(); ctx.moveTo(lx0, 185.5); ctx.lineTo(lx1, 185.5); ctx.stroke();
    ctx.setLineDash([]);
    drawRuns(ctx, [{ t: 'HST Low State (01/99)' }], tx, 130.5, TXT, 0.8);
    drawRuns(ctx, [{ t: 'WD Model Fit: T' }, { t: 'eff', sub: true, bold: true }, { t: ' = 46,000 K' }], tx, 150, TXT, 0.8);
    drawRuns(ctx, [{ t: 'log g = 7.6' }], a.left + 213, 170.5, TXT, 0.8);
    drawRuns(ctx, [{ t: 'IUE High State (11/85)' }], tx, 191.5, TXT, 0.8);

    drawIds(ctx, xs, ys, FLUX_IDS);
    capText(ctx, 'WD', a.right - 23, ys.getPixelForValue(-0.52), LBL, 'right');
    ctx.restore();
  },
};

// hatched error envelope, drawn under the residual curve from BAND_* through the chart scales
const bandHatch = {
  id: 'bandHatch',
  beforeDatasetsDraw(chart: any) {
    const ctx: CanvasRenderingContext2D = chart.ctx;
    const xs = chart.scales.x;
    const ys = chart.scales.y;
    ctx.save();
    ctx.beginPath();
    BAND_WAVE.forEach((w, i) => {
      const x = xs.getPixelForValue(w), y = ys.getPixelForValue(BAND_HALF[i]);
      if (i === 0) ctx.moveTo(x, y); else ctx.lineTo(x, y);
    });
    for (let i = BAND_WAVE.length - 1; i >= 0; i--) {
      ctx.lineTo(xs.getPixelForValue(BAND_WAVE[i]), ys.getPixelForValue(-BAND_HALF[i]));
    }
    ctx.closePath();
    ctx.clip();
    const x0 = xs.getPixelForValue(BAND_WAVE[0]);
    const x1 = xs.getPixelForValue(BAND_WAVE[BAND_WAVE.length - 1]);
    const yT = ys.getPixelForValue(0.3);
    const yB = ys.getPixelForValue(-0.3);
    const h = yB - yT;
    ctx.strokeStyle = HATCH_COLOR;
    ctx.lineWidth = 0.8;
    ctx.beginPath();
    for (let x = x0 - h; x < x1 + HATCH_STEP; x += HATCH_STEP) {
      ctx.moveTo(x, yB);
      ctx.lineTo(x + h, yT);
    }
    ctx.stroke();
    ctx.restore();
  },
};

const bottomDecor = {
  id: 'bottomDecor',
  afterDraw(chart: any) {
    const ctx: CanvasRenderingContext2D = chart.ctx;
    const a = chart.chartArea;
    const xs = chart.scales.x;
    const ys = chart.scales.y;
    ctx.save();
    ctx.strokeStyle = '#000';
    ctx.lineWidth = 1.2;
    ctx.strokeRect(a.left, a.top, a.right - a.left, a.bottom - a.top);
    ctx.lineWidth = 1;
    xTicks(ctx, xs, a.bottom, -1);
    yTicks(ctx, ys, a, RES_MAJOR, RES_MINOR);
    RES_MAJOR.forEach((v, i) => capText(ctx, RES_LABELS[i], a.left - 7, ys.getPixelForValue(v), TXT, 'right', SERIF, 0.4));
    X_MAJOR.forEach((v, i) => capText(ctx, X_MAJOR_LABELS[i], xs.getPixelForValue(v), a.bottom + 16, TXT, 'center', SERIF, 0.4));
    const xt: Run[] = [{ t: 'Wavelength (\u00c5)' }];
    drawRuns(ctx, xt, (a.left + a.right) / 2 - runsWidth(ctx, xt, TXT, 0.6) / 2, 803, TXT, 0.6);
    yTitle(ctx, [{ t: 'Residuals' }], 30, (a.top + a.bottom) / 2, TXT, 1);

    drawIds(ctx, xs, ys, RESID_IDS);
    capText(ctx, 'Outflow?', a.right - 24, ys.getPixelForValue(-0.81), 15.5, 'right', SERIF, 0.6);
    capText(ctx, 'Interstellar', a.right - 23, ys.getPixelForValue(-1.82), 15.5, 'right', SERIF, 0.8);

    // fit regions along the panel divider
    ctx.fillStyle = '#000';
    const r = 5;
    for (const [s, e] of FIT_REGIONS) {
      const x1 = xs.getPixelForValue(s);
      const x2 = xs.getPixelForValue(e);
      const y = a.top;
      ctx.beginPath();
      ctx.moveTo(x1, y - r);
      ctx.lineTo(Math.max(x1, x2 - r), y - r);
      ctx.arc(Math.max(x1, x2 - r), y, r, -Math.PI / 2, Math.PI / 2);
      ctx.lineTo(x1, y + r);
      ctx.closePath();
      ctx.fill();
    }
    ctx.restore();
  },
};

const toXY = (arr: Array<[number, number | null]>) => arr.map(([x, y]) => ({ x, y }));

export default function App() {
  const topRef = useRef<HTMLCanvasElement>(null);
  const botRef = useRef<HTMLCanvasElement>(null);

  useEffect(() => {
    const xScale = { type: 'linear', min: X_MIN, max: X_MAX, display: false };
    const common = {
      responsive: false,
      animation: false,
      devicePixelRatio: 1,
      events: [],
      plugins: { legend: { display: false }, tooltip: { enabled: false } },
      elements: { point: { radius: 0 }, line: { tension: 0 } },
    };

    const top = new Chart(topRef.current!, {
      type: 'line',
      data: {
        datasets: [
          { data: toXY(IUE), borderColor: '#0000ff', borderWidth: 1.3, borderDash: [30, 5], spanGaps: false, fill: false, clip: 0 },
          { data: toXY(MODEL), borderColor: '#ff0000', borderWidth: 1.3, fill: false, clip: 0 },
          { data: toXY(HST), borderColor: '#000000', borderWidth: 4, borderJoinStyle: 'round', fill: false, clip: 0 },
        ],
      },
      options: {
        ...common,
        layout: { padding: { left: PLOT_L, right: W - PLOT_R, top: TOP_Y, bottom: H - MID_Y } },
        scales: { x: xScale, y: { type: 'linear', min: FLUX_MIN, max: FLUX_MAX, display: false } },
      } as any,
      plugins: [topDecor],
    });

    const bot = new Chart(botRef.current!, {
      type: 'line',
      data: {
        datasets: [
          { data: toXY(RESID), borderColor: '#444444', borderWidth: 0.85, fill: false, clip: 0 },
        ],
      },
      options: {
        ...common,
        layout: { padding: { left: PLOT_L, right: W - PLOT_R, top: MID_Y, bottom: H - BOT_Y } },
        scales: { x: xScale, y: { type: 'linear', min: RES_MIN, max: RES_MAX, display: false } },
      } as any,
      plugins: [bandHatch, bottomDecor],
    });

    return () => { top.destroy(); bot.destroy(); };
  }, []);

  const cs: React.CSSProperties = { position: 'absolute', left: 0, top: 0, width: W, height: H };
  return (
    <div style={{ position: 'fixed', left: 0, top: 0, width: W, height: H, background: '#fff' }}>
      <canvas ref={botRef} width={W} height={H} style={cs} />
      <canvas ref={topRef} width={W} height={H} style={cs} />
    </div>
  );
}
